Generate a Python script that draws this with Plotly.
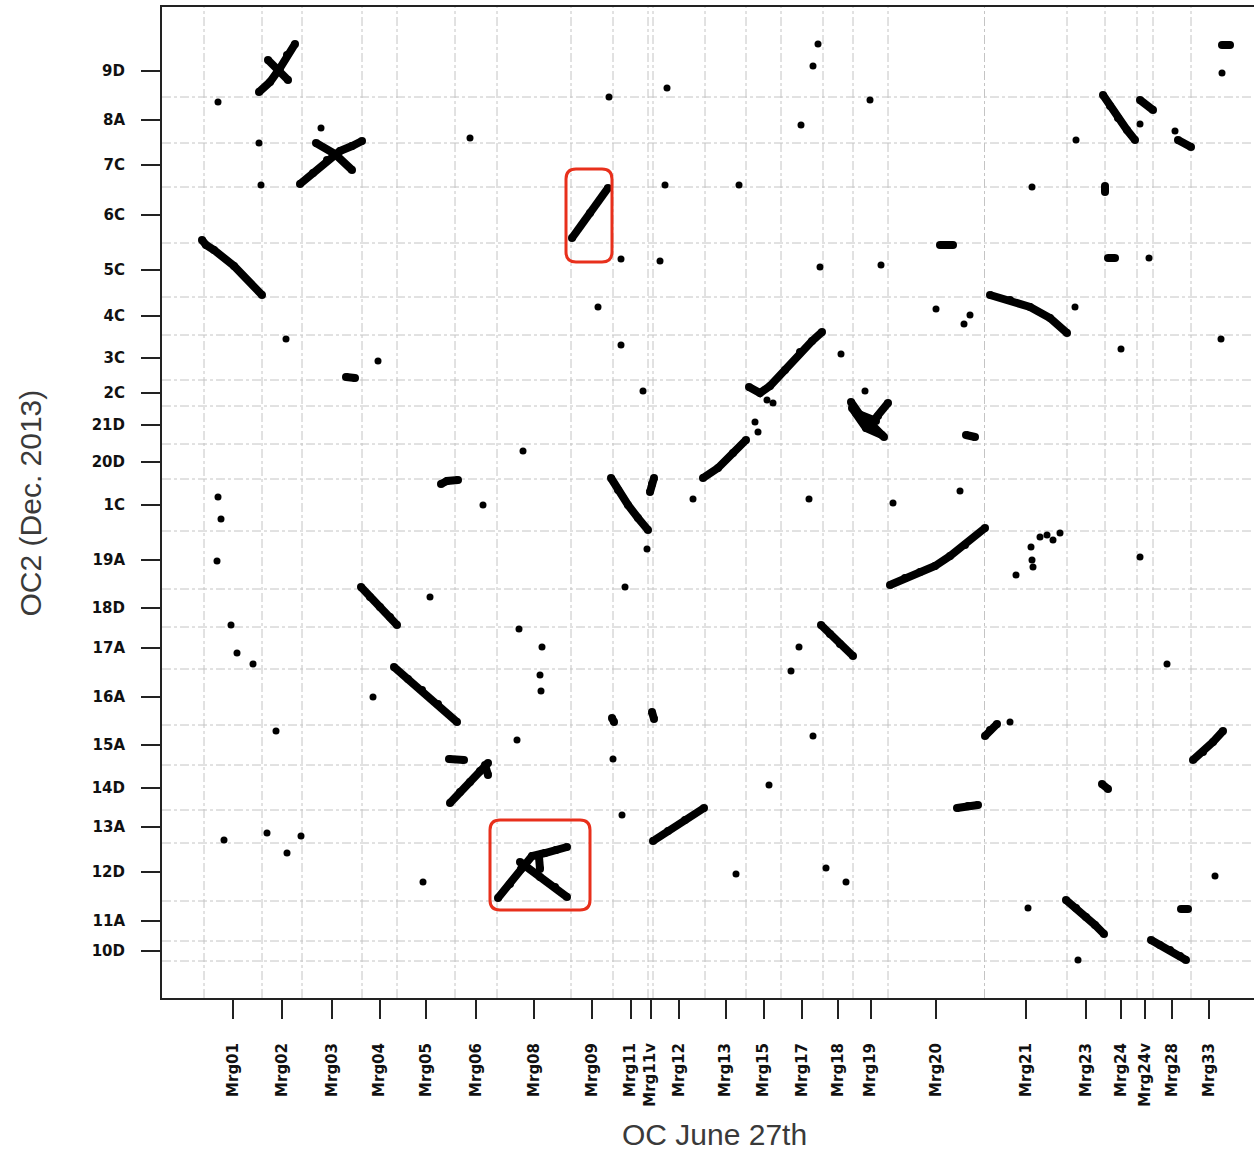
import plotly.graph_objects as go

# ---------------- axis segments ----------------
x_names = ["Mrg01", "Mrg02", "Mrg03", "Mrg04", "Mrg05", "Mrg06", "Mrg08", "Mrg09",
           "Mrg11", "Mrg11v", "Mrg12", "Mrg13", "Mrg15", "Mrg17", "Mrg18", "Mrg19",
           "Mrg20", "Mrg21", "Mrg23", "Mrg24", "Mrg24v", "Mrg28", "Mrg33"]
x_lengths = [58, 40, 60, 35, 58, 42, 74, 42, 35, 5, 52, 41, 35, 42, 30, 35,
             96.5, 82.5, 38, 32, 16, 38, 36]

y_names = ["10D", "11A", "12D", "13A", "14D", "15A", "16A", "17A", "18D", "19A", "1C",
           "20D", "21D", "2C", "3C", "4C", "5C", "6C", "7C", "8A", "9D"]
y_lengths = [20, 40, 58, 33, 45, 40, 56, 42, 38, 58, 52, 35, 38, 26, 45, 38, 54, 56, 44, 46, 52]

# ---------------- alignment chains (x positions, y positions) ----------------
chains_x = [
    [55, 66, 76, 83, 91], [64, 84],
    [96, 109, 123, 136, 148, 158], [112, 131, 148],
    [-2, 2, 10, 30, 58],
    [368, 386, 404],
    [786, 806, 826, 846, 863],
    [545, 556, 566, 581, 596, 608, 618],
    [647, 656, 668, 680], [684, 674, 666], [648, 662, 678], [652, 672],
    [762, 771],
    [686, 701, 716, 731, 746, 761, 781],
    [499, 514, 529, 542],
    [237, 243, 254],
    [407, 414, 424, 434, 444],
    [446, 448, 450],
    [157, 166, 176, 186, 193],
    [617, 626, 636, 649],
    [190, 204, 218, 234, 253],
    [781, 786, 793],
    [989, 999, 1009, 1019],
    [246, 256, 266, 276, 284], [245, 260], [281, 284],
    [753, 764, 774],
    [449, 464, 481, 500],
    [294, 306, 317, 328, 341, 352, 363], [316, 336, 351, 363], [335, 336],
    [862, 872, 882, 891, 900],
    [947, 956, 966, 976, 982],
    [899, 906, 914, 923, 931], [936, 949], [974, 987], [1018, 1026],
    [901, 901], [736, 749], [904, 911], [408, 410], [448, 450], [142, 151],
    [898, 904], [977, 984],
]
chains_y = [
    [869, 879, 893, 906, 917], [901, 881],
    [777, 788, 801, 810, 815, 820], [818, 807, 791],
    [721, 716, 711, 695, 666],
    [723, 748, 773],
    [666, 661, 654, 643, 628],
    [574, 568, 575, 591, 609, 620, 629],
    [559, 546, 536, 524], [558, 545, 536], [553, 533, 526], [548, 540],
    [526, 524],
    [376, 383, 389, 395, 405, 416, 433],
    [483, 493, 508, 521],
    [477, 480, 481],
    [483, 471, 456, 443, 431],
    [469, 477, 483],
    [374, 364, 354, 344, 336],
    [336, 327, 317, 305],
    [294, 282, 271, 257, 239],
    [225, 231, 237],
    [201, 209, 219, 230],
    [158, 169, 179, 190, 198], [202, 201], [196, 186],
    [153, 155, 156],
    [120, 130, 141, 153],
    [63, 77, 92, 105, 108, 111, 114], [99, 84, 74, 64], [104, 92],
    [61, 53, 44, 36, 27],
    [21, 16, 11, 5, 1],
    [866, 855, 843, 831, 821], [861, 851], [821, 814], [916, 916],
    [775, 769], [716, 716], [703, 703], [243, 239], [249, 242], [584, 583],
    [177, 172], [52, 52],
]

# ---------------- isolated hits ----------------
dots_x = [14, 55, 57, 117, 266, 405, 463, 614, 609, 597, 666, 461, 535, 828, 872, 1018,
          417, 456, 616, 677, 945, 394, 732, 760, 766, 871, 82, 917, 1017, 174, 417, 637,
          439, 563, 569, 551, 554, 661, 689, 756, 319, 489, 605, 279, 14, 17, 13, 443,
          812, 827, 828, 829, 836, 843, 849, 856, 936, 226, 421, 27, 33, 49, 315, 338,
          336, 337, 595, 587, 963, 169, 72, 313, 609, 806, 409, 565, 418, 20, 63, 83, 97,
          219, 532, 622, 642, 1011, 824, 874, 971, 936]
dots_y = [859, 818, 776, 833, 823, 864, 873, 917, 895, 836, 861, 776, 776, 774, 821, 888,
          702, 700, 694, 696, 703, 654, 652, 637, 646, 654, 622, 612, 622, 600, 616, 607,
          570, 561, 558, 539, 529, 570, 458, 470, 510, 462, 462, 456, 464, 442, 400, 412,
          386, 414, 401, 394, 424, 426, 421, 428, 404, 364, 374, 336, 308, 297, 332, 314,
          286, 270, 314, 290, 297, 264, 230, 221, 225, 239, 202, 176, 146, 121, 128, 108, 125,
          79, 87, 93, 79, 85, 53, 1, 830, 837]

# highlighted regions (x0, x1, y0, y1)
highlights = [(362, 408, 699, 792), (286, 386, 51, 141)]


def cumulative(lengths):
    starts, s = [], 0.0
    for L in lengths:
        starts.append(s)
        s += L
    return starts


x_starts = cumulative(x_lengths)
y_starts = cumulative(y_lengths)
x_mid = [s + L / 2 for s, L in zip(x_starts, x_lengths)]
y_mid = [s + L / 2 for s, L in zip(y_starts, y_lengths)]

fig = go.Figure()

lx, ly = [], []
for cx, cy in zip(chains_x, chains_y):
    lx += cx + [None]
    ly += cy + [None]
fig.add_trace(go.Scatter(x=lx, y=ly, mode="lines+markers",
                         line=dict(color="black", width=8),
                         marker=dict(color="black", size=8),
                         hoverinfo="skip"))
fig.add_trace(go.Scatter(x=dots_x, y=dots_y, mode="markers",
                         marker=dict(color="black", size=7), hoverinfo="skip"))

shapes = []
grid_style = dict(color="#c4c4c4", width=1, dash="9px,3px,3px,3px")
for xs in x_starts:
    shapes.append(dict(type="line", xref="x", yref="paper", x0=xs, x1=xs, y0=0, y1=1,
                       line=grid_style, layer="below"))
for ys in y_starts:
    shapes.append(dict(type="line", xref="paper", yref="y", x0=0, x1=1, y0=ys, y1=ys,
                       line=grid_style, layer="below"))

r = 10
for (x0, x1, y0, y1) in highlights:
    path = (f"M {x0 + r},{y0} L {x1 - r},{y0} Q {x1},{y0} {x1},{y0 + r} "
            f"L {x1},{y1 - r} Q {x1},{y1} {x1 - r},{y1} L {x0 + r},{y1} "
            f"Q {x0},{y1} {x0},{y1 - r} L {x0},{y0 + r} Q {x0},{y0} {x0 + r},{y0} Z")
    shapes.append(dict(type="path", xref="x", yref="y", path=path,
                       line=dict(color="#e8301c", width=3), layer="above"))

tickfont = dict(family="DejaVu Sans", size=15, color="#111", weight="bold")

fig.update_layout(
    width=1254, height=1150,
    margin=dict(l=162, r=0, t=7, b=152),
    plot_bgcolor="white", paper_bgcolor="white",
    showlegend=False, shapes=shapes,
    annotations=[
        dict(text="OC2 (Dec. 2013)", xref="paper", yref="paper", x=-0.12, y=0.5,
             textangle=-90, showarrow=False, xanchor="center", yanchor="middle",
             font=dict(family="Liberation Sans", size=30, color="#3a3a3a")),
        dict(text="OC June 27th", xref="paper", yref="paper", x=0.5064, y=-0.138,
             showarrow=False, xanchor="center", yanchor="middle",
             font=dict(family="Liberation Sans", size=30, color="#3a3a3a")),
    ],
)
fig.update_xaxes(range=[-42, 1050], tickmode="array", tickvals=x_mid, ticktext=x_names,
                 tickangle=-90, ticks="outside", ticklen=19, tickwidth=2, tickcolor="#222",
                 showline=True, linewidth=2, linecolor="#222", mirror=True,
                 showgrid=False, zeroline=False, tickfont=tickfont, ticklabelstandoff=18)
fig.update_yaxes(range=[-37, 954], tickmode="array", tickvals=y_mid, ticktext=y_names,
                 ticks="outside", ticklen=19, tickwidth=2, tickcolor="#222",
                 showline=True, linewidth=2, linecolor="#222", mirror=False,
                 showgrid=False, zeroline=False, tickfont=tickfont, ticklabelstandoff=13)

fig.write_html("out.html")
